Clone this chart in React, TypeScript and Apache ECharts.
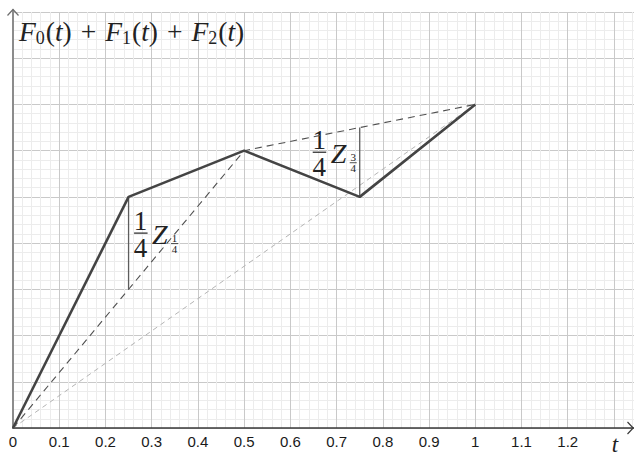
import React, { useEffect, useRef } from "react";
import * as echarts from "echarts";

// Break points of the cumulative sum F0 + F1 + F2
const kinkT = [0, 0.25, 0.5, 0.75, 1];
const sumF012 = [0, 0.5, 0.6, 0.5, 0.7];
// F0 + F1 (dyadic level 1)
const midT = [0, 0.5, 1];
const sumF01 = [0, 0.6, 0.7];
// F0 alone
const endT = [0, 1];
const onlyF0 = [0, 0.7];
// Vertical gaps between the levels, labelled (1/4) Z
const quarterGapT = 0.25;
const quarterGap = [0.3, 0.5];
const threeQuarterGapT = 0.75;
const threeQuarterGap = [0.5, 0.65];

const xMax = 1.4;
const yMax = 0.9;
const lastLabelledTick = 1.2;

const SERIF = "Liberation Serif";
const SANS = "Liberation Sans";

function pairs(xs: number[], ys: number[]) {
  return xs.map((x, i) => [x, ys[i]]);
}

function fractionZ(x: number, y: number, numSub: string) {
  const ink = "#222";
  return {
    type: "group",
    x,
    y,
    children: [
      { type: "text", x: 6.5, y: -12.5, style: { text: "1", fontSize: 27, fontFamily: SERIF, fill: ink, align: "center", verticalAlign: "middle" } },
      { type: "line", shape: { x1: 0, y1: 0, x2: 13.5, y2: 0 }, style: { stroke: ink, lineWidth: 1.2 } },
      { type: "text", x: 6.5, y: 15, style: { text: "4", fontSize: 27, fontFamily: SERIF, fill: ink, align: "center", verticalAlign: "middle" } },
      { type: "text", x: 18, y: 1, style: { text: "Z", fontSize: 28, fontFamily: SERIF, fontStyle: "italic", fill: ink, align: "left", verticalAlign: "middle" } },
      { type: "text", x: 40.5, y: 5, style: { text: numSub, fontSize: 11, fontFamily: SERIF, fill: ink, align: "center", verticalAlign: "middle" } },
      { type: "line", shape: { x1: 37, y1: 10.5, x2: 44, y2: 10.5 }, style: { stroke: ink, lineWidth: 0.8 } },
      { type: "text", x: 40.5, y: 16, style: { text: "4", fontSize: 11, fontFamily: SERIF, fill: ink, align: "center", verticalAlign: "middle" } },
    ],
  };
}

export default function App() {
  const ref = useRef<HTMLDivElement>(null);

  useEffect(() => {
    if (!ref.current) return;
    const chart = echarts.init(ref.current, undefined, { renderer: "svg" });

    const option: any = {
      animation: false,
      backgroundColor: "#ffffff",
      grid: { left: 13, top: 12, width: 647.2, height: 416, containLabel: false, outerBoundsMode: "none" },
      xAxis: {
        type: "value",
        min: 0,
        max: xMax,
        interval: 0.1,
        axisLine: { show: true, onZero: false, lineStyle: { color: "#3a3a3a", width: 1.5 } },
        axisTick: { show: false },
        minorTick: { show: false, splitNumber: 5 },
        splitLine: { show: true, lineStyle: { color: "#c9c9c9", width: 1 } },
        minorSplitLine: { show: true, lineStyle: { color: "#ececec", width: 1 } },
        axisLabel: {
          show: true,
          margin: 6,
          fontSize: 15,
          fontFamily: SANS,
          color: "#1a1a1a",
          formatter: (v: number) => (v <= lastLabelledTick + 1e-9 ? String(Math.round(v * 10) / 10) : ""),
        },
      },
      yAxis: {
        type: "value",
        min: 0,
        max: yMax,
        interval: 0.1,
        axisLine: { show: true, onZero: false, lineStyle: { color: "#8c8c8c", width: 2 } },
        axisTick: { show: false },
        axisLabel: { show: false },
        minorTick: { show: false, splitNumber: 5 },
        splitLine: { show: true, lineStyle: { color: "#c9c9c9", width: 1 } },
        minorSplitLine: { show: true, lineStyle: { color: "#ececec", width: 1 } },
      },
      series: [
        {
          name: "F0",
          type: "line",
          data: pairs(endT, onlyF0),
          symbol: "none",
          z: 2,
          lineStyle: { color: "#b4b4b4", width: 1, type: [5, 4] },
        },
        {
          name: "F0+F1",
          type: "line",
          data: pairs(midT, sumF01),
          symbol: "none",
          z: 3,
          lineStyle: { color: "#505050", width: 1.1, type: [7, 5] },
        },
        {
          name: "Z 1/4",
          type: "line",
          data: quarterGap.map((v) => [quarterGapT, v]),
          symbol: "none",
          z: 3,
          lineStyle: { color: "#5c5c5c", width: 1.3 },
        },
        {
          name: "Z 3/4",
          type: "line",
          data: threeQuarterGap.map((v) => [threeQuarterGapT, v]),
          symbol: "none",
          z: 3,
          lineStyle: { color: "#5c5c5c", width: 1.3 },
        },
        {
          name: "F0+F1+F2",
          type: "line",
          data: pairs(kinkT, sumF012),
          symbol: "none",
          z: 4,
          lineStyle: { color: "#444444", width: 2.6 },
        },
      ],
    };
    chart.setOption(option);

    // Place the arrowheads, axis name, title and Z labels relative to the axes
    const origin = chart.convertToPixel({ gridIndex: 0 }, [0, 0]) as number[];
    const topLeft = chart.convertToPixel({ gridIndex: 0 }, [0, yMax]) as number[];
    const q = chart.convertToPixel({ gridIndex: 0 }, [quarterGapT, (quarterGap[0] + quarterGap[1]) / 2]) as number[];
    const tq = chart.convertToPixel({ gridIndex: 0 }, [threeQuarterGapT, (threeQuarterGap[0] + threeQuarterGap[1]) / 2]) as number[];
    const W = 634;
    const yTip = topLeft[1] - 2.5;

    chart.setOption({
      graphic: [
        { type: "line", shape: { x1: origin[0], y1: topLeft[1], x2: origin[0], y2: yTip }, style: { stroke: "#8c8c8c", lineWidth: 2 } },
        {
          type: "polyline",
          shape: { points: [[origin[0] - 5.5, yTip + 6], [origin[0], yTip], [origin[0] + 5.5, yTip + 6]] },
          style: { stroke: "#6e6e6e", lineWidth: 1.2, fill: null },
        },
        {
          type: "polyline",
          shape: { points: [[W - 6.5, origin[1] - 6], [W - 0.8, origin[1]], [W - 6.5, origin[1] + 6]] },
          style: { stroke: "#3a3a3a", lineWidth: 1.2, fill: null },
        },
        {
          type: "text",
          x: 615,
          y: 444,
          style: { text: "t", fontSize: 23, fontFamily: SERIF, fontStyle: "italic", fill: "#222", align: "center", verticalAlign: "middle" },
        },
        {
          type: "text",
          x: 19,
          y: 16,
          style: {
            text: "{i|F}{s|0}{n|(}{i|t}{n|)}{p|+}{i|F}{s|1}{n|(}{i|t}{n|)}{p|+}{i|F}{s|2}{n|(}{i|t}{n|)}",
            fill: "#222",
            rich: {
              i: { fontFamily: SERIF, fontStyle: "italic", fontSize: 27.5, lineHeight: 31, fill: "#222" },
              n: { fontFamily: SERIF, fontSize: 27.5, lineHeight: 31, fill: "#222" },
              p: { fontFamily: SERIF, fontSize: 27.5, lineHeight: 31, fill: "#222", padding: [0, 9, 0, 9] },
              s: { fontFamily: SERIF, fontSize: 18, lineHeight: 19, verticalAlign: "bottom", fill: "#222", padding: [0, 1, 0, 0] },
            },
          },
        },
        fractionZ(q[0] + 5.5, q[1] - 10, "1"),
        fractionZ(tq[0] - 47, tq[1] - 10, "3"),
      ],
    });

    return () => chart.dispose();
  }, []);

  return (
    <div
      ref={ref}
      style={{ position: "fixed", left: 0, top: 0, width: 634, height: 457, background: "#fff" }}
    />
  );
}
